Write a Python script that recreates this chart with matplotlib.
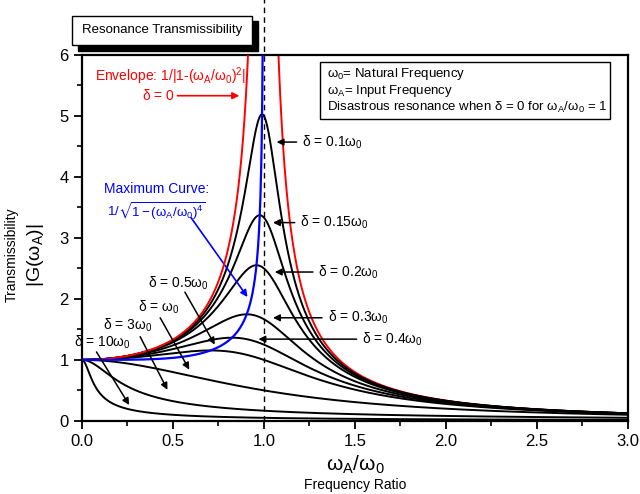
import matplotlib
matplotlib.use("Agg")
import matplotlib.pyplot as plt
from matplotlib.patches import Rectangle
import numpy as np

plt.rcParams['font.family'] = ['Liberation Sans', 'DejaVu Sans']
plt.rcParams['mathtext.fontset'] = 'stix'
plt.rcParams['mathtext.default'] = 'regular'

# damping values (delta / omega_0) shown in the chart
damping = [0.1, 0.15, 0.2, 0.3, 0.4, 0.5, 1, 3, 10]
damping_labels = ['0.1', '0.15', '0.2', '0.3', '0.4', '0.5', '', '3', '10']
x_ticks = [0.0, 0.5, 1.0, 1.5, 2.0, 2.5, 3.0]
y_ticks = [0, 1, 2, 3, 4, 5, 6]

# frequency ratio omega_A / omega_0
r = np.linspace(0, 3, 3001)


def transmissibility(ratio, d):
    return 1.0 / np.sqrt((1 - ratio**2)**2 + (2 * d * ratio)**2)


fig = plt.figure(figsize=(6.4, 4.94), dpi=100)
ax = fig.add_axes([0.128, 0.148, 0.853, 0.741])

for d in damping:
    ax.plot(r, transmissibility(r, d), color='black', lw=1.4, zorder=3)

# envelope (delta = 0), split at resonance
lo = r[r < 0.999]
hi = r[r > 1.001]
ax.plot(lo, 1 / np.abs(1 - lo**2), color='red', lw=1.4, zorder=4)
ax.plot(hi, 1 / np.abs(1 - hi**2), color='red', lw=1.4, zorder=2)

# maximum curve
rm = r[r < 0.99999]
ax.plot(rm, 1 / np.sqrt(1 - rm**4), color='blue', lw=1.6, zorder=5)

# resonance line
ax.axvline(1.0, ymin=0, ymax=1.155, color='black', ls=(0, (4, 3)), lw=1.0,
           clip_on=False, zorder=6)

ax.set_xlim(0, 3)
ax.set_ylim(0, 6)
ax.set_xticks(x_ticks)
ax.set_xticklabels(['%.1f' % v for v in x_ticks])
ax.set_yticks(y_ticks)
ax.set_xticks(np.arange(0.25, 3, 0.5), minor=True)
ax.set_yticks(np.arange(0.5, 6, 1), minor=True)
ax.tick_params(which='major', direction='out', length=6, width=1.3, labelsize=12)
ax.tick_params(which='minor', direction='out', length=3.5, width=1.2)
for s in ax.spines.values():
    s.set_linewidth(1.6)

# axis labels
fig.text(0.019, 0.484, 'Transmissibility', rotation=90, ha='center', va='center', fontsize=10)
fig.text(0.055, 0.484, r'|G($\omega_{A}$)|', rotation=90, ha='center', va='center', fontsize=14)
fig.text(0.555, 0.058, r'$\omega_{A}/\omega_{0}$', ha='center', va='center', fontsize=15)
fig.text(0.555, 0.018, 'Frequency Ratio', ha='center', va='center', fontsize=10)

# title box with shadow
fig.patches.append(Rectangle((0.122, 0.897), 0.281, 0.060, transform=fig.transFigure,
                             facecolor='black', edgecolor='black', zorder=1))
fig.patches.append(Rectangle((0.1125, 0.909), 0.281, 0.059, transform=fig.transFigure,
                             facecolor='white', edgecolor='black', lw=1.0, zorder=2))
fig.text(0.253, 0.939, 'Resonance Transmissibility', ha='center', va='center',
         fontsize=9.5, zorder=3)

# info box
ax.add_patch(Rectangle((1.31, 4.95), 1.59, 0.94, facecolor='white', edgecolor='black',
                       lw=1.0, zorder=7))
info = [r'$\omega_0$= Natural Frequency',
        r'$\omega_A$= Input Frequency',
        r'Disastrous resonance when $\delta$ = 0 for $\omega_A/\omega_0$ = 1']
for i, line in enumerate(info):
    ax.text(1.345, 5.68 - i * 0.27, line, fontsize=9.5, va='center', ha='left', zorder=8)

# envelope and maximum curve labels
ax.text(0.90, 5.65, r'Envelope: 1/|1-($\omega_A/\omega_0$)$^2$|', color='red', fontsize=10,
        ha='right', va='center')
ax.annotate(r'$\delta$ = 0', xy=(0.865, 5.33), xytext=(0.51, 5.33), color='red', fontsize=10,
            ha='right', va='center',
            arrowprops=dict(arrowstyle='-|>', color='red', lw=1.2, shrinkA=0, shrinkB=0))
ax.text(0.41, 3.80, 'Maximum Curve:', color='blue', fontsize=10, ha='center', va='center')
ax.text(0.41, 3.44, r'1/$\sqrt{1-(\omega_A/\omega_0)^4}$', color='blue', fontsize=9.5,
        ha='center', va='center')
ax.annotate('', xy=(0.91, 2.03), xytext=(0.60, 3.33),
            arrowprops=dict(arrowstyle='-|>', color='blue', lw=1.2, shrinkA=0, shrinkB=0))

# damping labels, arrows pointing left to the peaks
right_labels = [(0, 1.07, 4.57, 1.21), (1, 1.05, 3.25, 1.20), (2, 1.06, 2.44, 1.30),
                (3, 1.05, 1.69, 1.35), (4, 0.97, 1.34, 1.54)]
for i, tx, ty, lx in right_labels:
    ax.annotate(r'$\delta$ = ' + damping_labels[i] + r'$\omega_0$', xy=(tx, ty),
                xytext=(lx, ty), fontsize=10, ha='left', va='center', zorder=8,
                arrowprops=dict(arrowstyle='-|>', color='black', lw=1.1,
                                shrinkA=2, shrinkB=0))

# damping labels on the left side, diagonal arrows
left_labels = [(5, 0.53, 2.26, 0.566, 2.11, 0.73, 1.25),
               (6, 0.42, 1.87, 0.43, 1.69, 0.59, 0.84),
               (7, 0.25, 1.57, 0.32, 1.38, 0.47, 0.51),
               (8, 0.115, 1.28, 0.08, 1.13, 0.26, 0.26)]
for i, lx, ly, ax0, ay0, ax1, ay1 in left_labels:
    ax.text(lx, ly, r'$\delta$ = ' + damping_labels[i] + r'$\omega_0$', fontsize=10,
            ha='center', va='center', zorder=8)
    ax.annotate('', xy=(ax1, ay1), xytext=(ax0, ay0), zorder=8,
                arrowprops=dict(arrowstyle='-|>', color='black', lw=1.1, shrinkA=0, shrinkB=0))

fig.savefig('out.png', dpi=100)
